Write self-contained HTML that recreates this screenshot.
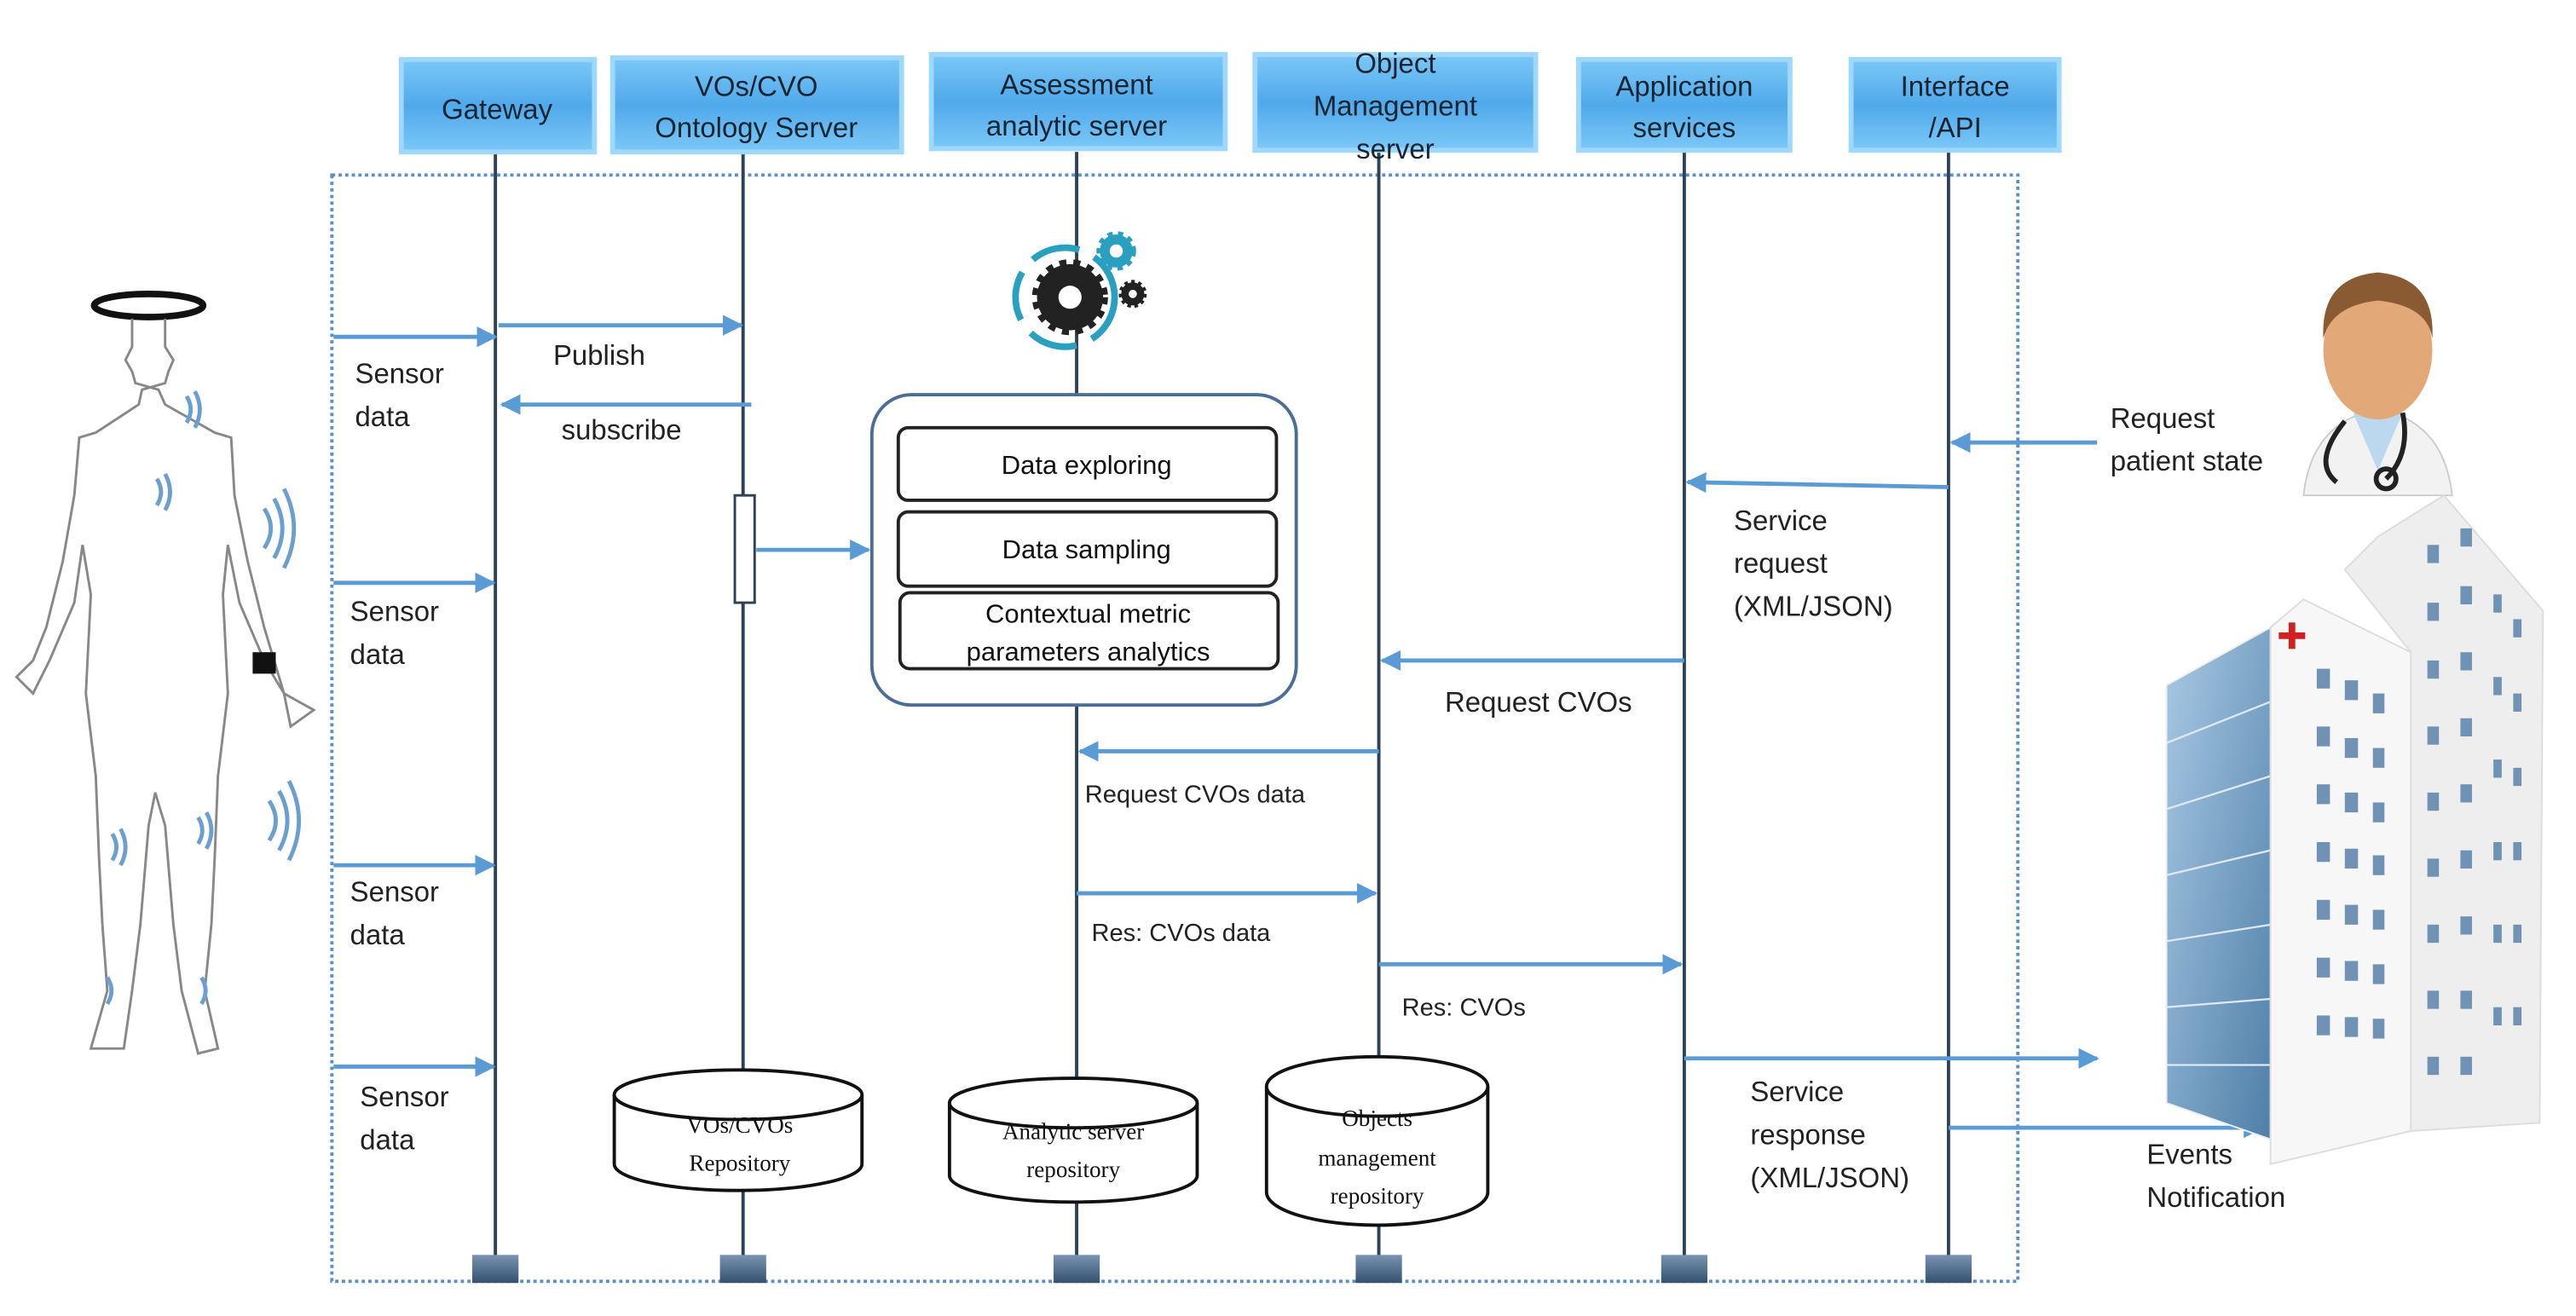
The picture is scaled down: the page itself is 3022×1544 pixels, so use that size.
<!DOCTYPE html>
<html><head><meta charset="utf-8"><style>html,body{margin:0;padding:0;background:#fff}svg{display:block}</style></head>
<body>
<svg width="3022" height="1544" viewBox="0 0 1560 797" xmlns="http://www.w3.org/2000/svg" font-family="Liberation Sans, sans-serif">
<defs>
<linearGradient id="hb" x1="0" y1="0" x2="0" y2="1"><stop offset="0" stop-color="#7cc8f8"/><stop offset="0.5" stop-color="#4fa9ea"/><stop offset="1" stop-color="#7cc8f8"/></linearGradient>
<linearGradient id="sq" x1="0" y1="0" x2="0" y2="1"><stop offset="0" stop-color="#7a93b3"/><stop offset="1" stop-color="#34506f"/></linearGradient>
<linearGradient id="gl" x1="0" y1="0" x2="1" y2="1"><stop offset="0" stop-color="#a9c9e4"/><stop offset="1" stop-color="#4f7fa8"/></linearGradient>
<marker id="ar" viewBox="0 0 10 10" refX="9" refY="5" markerWidth="5" markerHeight="5" orient="auto"><path d="M0,0L10,5L0,10z" fill="#5b9bd5"/></marker>
</defs>
<rect x="201" y="106" width="1021" height="670" fill="none" stroke="#5b8fc8" stroke-width="2" stroke-dasharray="2,2"/>
<g stroke="#2e4257" stroke-width="2">
<line x1="300" y1="92" x2="300" y2="770"/><line x1="450" y1="92" x2="450" y2="770"/><line x1="652" y1="92" x2="652" y2="770"/><line x1="835" y1="92" x2="835" y2="770"/><line x1="1020" y1="92" x2="1020" y2="770"/><line x1="1180" y1="92" x2="1180" y2="770"/>
</g>
<g fill="url(#sq)">
<rect x="286" y="760" width="28" height="17"/><rect x="436" y="760" width="28" height="17"/><rect x="638" y="760" width="28" height="17"/><rect x="821" y="760" width="28" height="17"/><rect x="1006" y="760" width="28" height="17"/><rect x="1166" y="760" width="28" height="17"/>
</g>
<g fill="url(#hb)" stroke="#9fd8ff" stroke-width="3">
<rect x="243" y="36" width="117" height="56"/><rect x="371" y="35" width="175" height="57"/><rect x="564" y="33" width="178" height="57"/><rect x="760" y="33" width="170" height="58"/><rect x="956" y="36" width="128" height="55"/><rect x="1121" y="36" width="126" height="55"/>
</g>
<g font-size="17" fill="#1a2430" text-anchor="middle">
<text x="301" y="72">Gateway</text>
<text x="458" y="58">VOs/CVO</text><text x="458" y="83">Ontology Server</text>
<text x="652" y="57">Assessment</text><text x="652" y="82">analytic server</text>
<text x="845" y="44">Object</text><text x="845" y="70">Management</text><text x="845" y="96">server</text>
<text x="1020" y="58">Application</text><text x="1020" y="83">services</text>
<text x="1184" y="58">Interface</text><text x="1184" y="83">/API</text>
</g>
<g stroke="#5b9bd5" stroke-width="2.5" fill="none" marker-end="url(#ar)">
<line x1="202" y1="204" x2="300" y2="204"/><line x1="202" y1="353" x2="299" y2="353"/><line x1="202" y1="524" x2="299" y2="524"/><line x1="202" y1="646" x2="299" y2="646"/>
<line x1="302" y1="197" x2="449" y2="197"/><line x1="455" y1="245" x2="304" y2="245"/>
<line x1="458" y1="333" x2="526" y2="333"/>
<line x1="1270" y1="268" x2="1182" y2="268"/><line x1="1180" y1="295" x2="1022" y2="292"/>
<line x1="1020" y1="400" x2="837" y2="400"/><line x1="835" y1="455" x2="654" y2="455"/>
<line x1="652" y1="541" x2="833" y2="541"/><line x1="835" y1="584" x2="1018" y2="584"/>
<line x1="1020" y1="641" x2="1270" y2="641"/><line x1="1180" y1="683" x2="1370" y2="683"/>
</g>
<rect x="445" y="300" width="12" height="65" fill="#fff" stroke="#2e4257" stroke-width="1.5"/>
<g font-size="17" fill="#222">
<text x="215" y="232">Sensor</text><text x="215" y="258">data</text>
<text x="212" y="376">Sensor</text><text x="212" y="402">data</text>
<text x="212" y="546">Sensor</text><text x="212" y="572">data</text>
<text x="218" y="670">Sensor</text><text x="218" y="696">data</text>
<text x="335" y="221">Publish</text><text x="340" y="266">subscribe</text>
<text x="1278" y="259">Request</text><text x="1278" y="285">patient state</text>
<text x="1050" y="321">Service</text><text x="1050" y="347">request</text><text x="1050" y="373">(XML/JSON)</text>
<text x="875" y="431">Request CVOs</text>
<text x="1060" y="667">Service</text><text x="1060" y="693">response</text><text x="1060" y="719">(XML/JSON)</text>
<text x="1300" y="705">Events</text><text x="1300" y="731">Notification</text>
</g>
<g font-size="15" fill="#222">
<text x="657" y="486">Request CVOs data</text><text x="661" y="570">Res: CVOs data</text><text x="849" y="615">Res: CVOs</text>
</g>
<rect x="528" y="239" width="257" height="188" rx="24" fill="#fff" stroke="#4a6e96" stroke-width="2"/>
<g fill="#fff" stroke="#222" stroke-width="2">
<rect x="544" y="259" width="229" height="44" rx="6"/><rect x="544" y="310" width="229" height="45" rx="6"/><rect x="545" y="359" width="229" height="46" rx="6"/>
</g>
<g font-size="16" fill="#111" text-anchor="middle">
<text x="658" y="287">Data exploring</text><text x="658" y="338">Data sampling</text>
<text x="659" y="377">Contextual metric</text><text x="659" y="400">parameters analytics</text>
</g>
<g>
<circle cx="645" cy="180" r="30" fill="none" stroke="#2aa0c0" stroke-width="4" stroke-dasharray="30,10"/>
<circle cx="648" cy="180" r="20" fill="#222" stroke="#222" stroke-width="6" stroke-dasharray="4,4"/>
<circle cx="648" cy="180" r="7" fill="#fff"/>
<circle cx="676" cy="152" r="10" fill="#2aa0c0" stroke="#2aa0c0" stroke-width="4" stroke-dasharray="3,3"/><circle cx="676" cy="152" r="4" fill="#fff"/>
<circle cx="686" cy="178" r="7" fill="#222" stroke="#222" stroke-width="3" stroke-dasharray="2,2"/><circle cx="686" cy="178" r="2.5" fill="#fff"/>
</g>
<g fill="#fff" stroke="#111" stroke-width="2">
<path d="M372,663 L372,705 A75,16 0 0 0 522,705 L522,663"/><ellipse cx="447" cy="663" rx="75" ry="15"/>
<path d="M575,668 L575,712 A75,16 0 0 0 725,712 L725,668"/><ellipse cx="650" cy="668" rx="75" ry="15"/>
<path d="M767,658 L767,722 A67,20 0 0 0 901,722 L901,658"/><ellipse cx="834" cy="658" rx="67" ry="18"/>
</g>
<g font-family="Liberation Serif, serif" font-size="14" fill="#111" text-anchor="middle">
<text x="448" y="686">VOs/CVOs</text><text x="448" y="709">Repository</text>
<text x="650" y="690">Analytic  server</text><text x="650" y="713">repository</text>
<text x="834" y="682">Objects</text><text x="834" y="706">management</text><text x="834" y="729">repository</text>
</g>
<g fill="none" stroke="#888" stroke-width="1.5">
<ellipse cx="90" cy="185" rx="33" ry="7" stroke="#111" stroke-width="4"/>
<path d="M80,193 L80,210 L76,218 L80,225 L82,232 L96,236 L100,245 L130,262 L140,265 L142,300 L150,340 L160,380 L172,420 L190,430 L176,440 L172,420 L160,400 L145,365 L138,330 L135,360 L138,420 L132,470 L130,520 L128,560 L124,600 L132,635 L120,638 L110,600 L105,560 L100,500 L94,480 L90,500 L85,560 L80,600 L75,635 L55,635 L65,600 L62,560 L60,520 L58,470 L52,420 L55,360 L50,330 L45,365 L30,400 L20,420 L10,410 L20,400 L28,380 L38,340 L45,300 L48,265 L58,262 L84,245 L86,236 L100,232 L102,225 L105,218 L100,210 L100,193"/>
</g>
<rect x="153" y="395" width="14" height="13" fill="#111"/>
<g fill="none" stroke="#6a9fd0" stroke-width="2.5">
<path d="M160,308 q8,12 0,24"/><path d="M166,302 q10,18 0,36"/><path d="M172,296 q12,24 0,48"/>
<path d="M163,485 q8,12 0,24"/><path d="M169,479 q10,18 0,36"/><path d="M175,473 q12,24 0,48"/>
<path d="M95,290 q5,8 0,16"/><path d="M100,287 q6,11 0,22"/>
<path d="M113,240 q5,8 0,16"/><path d="M118,237 q6,11 0,22"/>
<path d="M120,495 q5,8 0,16"/><path d="M125,492 q6,11 0,22"/>
<path d="M68,505 q5,8 0,16"/><path d="M73,502 q6,11 0,22"/>
<path d="M65,592 q5,8 0,16"/><path d="M122,592 q5,8 0,16"/>
</g>
<g>
<path d="M1395,300 Q1400,255 1440,248 Q1480,255 1485,300 Z" fill="#f2f2f2" stroke="#ccc"/>
<path d="M1425,250 L1440,285 L1455,250 Z" fill="#bcd8ee"/>
<ellipse cx="1440" cy="212" rx="33" ry="42" fill="#e3a878"/>
<path d="M1407,205 Q1405,168 1440,165 Q1475,168 1473,205 Q1470,185 1440,182 Q1412,185 1407,205 Z" fill="#8a5a32"/>
<path d="M1420,255 Q1400,280 1415,292" fill="none" stroke="#222" stroke-width="3"/>
<path d="M1455,250 Q1460,275 1445,290" fill="none" stroke="#222" stroke-width="3"/>
<circle cx="1445" cy="290" r="6" fill="none" stroke="#222" stroke-width="3"/>
</g>
<g>
<polygon points="1312,415 1375,380 1375,690 1312,668" fill="url(#gl)" stroke="#eee"/>
<g stroke="#dde8f2" stroke-width="1.2">
<line x1="1312" y1="450" x2="1375" y2="425"/><line x1="1312" y1="490" x2="1375" y2="470"/><line x1="1312" y1="530" x2="1375" y2="515"/><line x1="1312" y1="570" x2="1375" y2="560"/><line x1="1312" y1="610" x2="1375" y2="605"/><line x1="1312" y1="645" x2="1375" y2="645"/>
</g>
<polygon points="1375,380 1395,363 1460,395 1460,685 1375,705" fill="#f7f7f7" stroke="#ddd"/>
<polygon points="1420,345 1440,325 1480,300 1540,370 1538,680 1460,685 1460,395" fill="#eeeeee" stroke="#ddd"/>
<rect x="1386" y="377" width="4" height="16" fill="#d02020"/><rect x="1380" y="383" width="16" height="4" fill="#d02020"/>
<g fill="#6f92b5">
<rect x="1403" y="405" width="8" height="12"/><rect x="1420" y="412" width="8" height="12"/><rect x="1437" y="420" width="7" height="12"/>
<rect x="1403" y="440" width="8" height="12"/><rect x="1420" y="447" width="8" height="12"/><rect x="1437" y="453" width="7" height="12"/>
<rect x="1403" y="475" width="8" height="12"/><rect x="1420" y="480" width="8" height="12"/><rect x="1437" y="486" width="7" height="12"/>
<rect x="1403" y="510" width="8" height="12"/><rect x="1420" y="514" width="8" height="12"/><rect x="1437" y="518" width="7" height="12"/>
<rect x="1403" y="545" width="8" height="12"/><rect x="1420" y="548" width="8" height="12"/><rect x="1437" y="551" width="7" height="12"/>
<rect x="1403" y="580" width="8" height="12"/><rect x="1420" y="582" width="8" height="12"/><rect x="1437" y="584" width="7" height="12"/>
<rect x="1403" y="615" width="8" height="12"/><rect x="1420" y="616" width="8" height="12"/><rect x="1437" y="617" width="7" height="12"/>
<rect x="1470" y="330" width="7" height="11"/><rect x="1490" y="320" width="7" height="11"/><rect x="1470" y="365" width="7" height="11"/><rect x="1490" y="355" width="7" height="11"/>
<rect x="1470" y="400" width="7" height="11"/><rect x="1490" y="395" width="7" height="11"/><rect x="1470" y="440" width="7" height="11"/><rect x="1490" y="435" width="7" height="11"/>
<rect x="1470" y="480" width="7" height="11"/><rect x="1490" y="475" width="7" height="11"/><rect x="1470" y="520" width="7" height="11"/><rect x="1490" y="515" width="7" height="11"/>
<rect x="1470" y="560" width="7" height="11"/><rect x="1490" y="555" width="7" height="11"/><rect x="1470" y="600" width="7" height="11"/><rect x="1490" y="600" width="7" height="11"/>
<rect x="1470" y="640" width="7" height="11"/><rect x="1490" y="640" width="7" height="11"/>
<rect x="1510" y="360" width="5" height="11"/><rect x="1522" y="375" width="5" height="11"/><rect x="1510" y="410" width="5" height="11"/><rect x="1522" y="420" width="5" height="11"/>
<rect x="1510" y="460" width="5" height="11"/><rect x="1522" y="465" width="5" height="11"/><rect x="1510" y="510" width="5" height="11"/><rect x="1522" y="510" width="5" height="11"/>
<rect x="1510" y="560" width="5" height="11"/><rect x="1522" y="560" width="5" height="11"/><rect x="1510" y="610" width="5" height="11"/><rect x="1522" y="610" width="5" height="11"/>
</g>
</g>
</svg>
</body></html>
